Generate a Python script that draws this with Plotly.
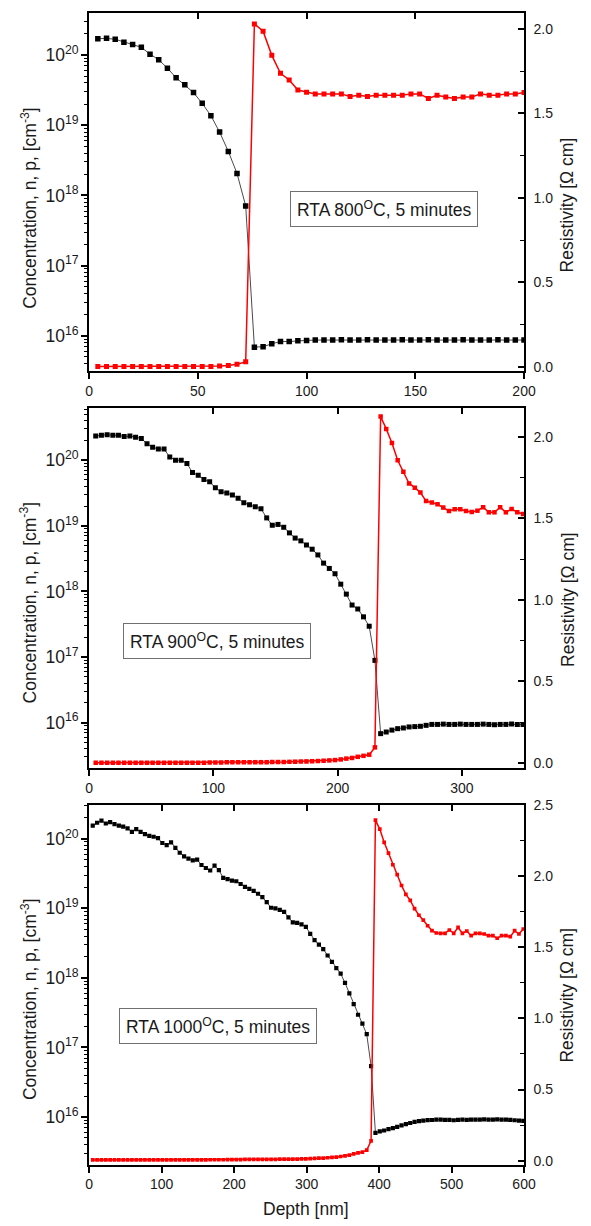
import plotly.graph_objects as go

# ---------------- RTA 800 C ----------------
depth_800 = list(range(4, 201, 4))
conc_800 = [
    1.71e20, 1.73e20, 1.68e20, 1.52e20, 1.41e20, 1.29e20, 1.03e20, 8.59e19, 6.50e19, 4.75e19,
    3.78e19, 2.92e19, 2.05e19, 1.37e19, 8.0e18, 4.24e18, 2.06e18, 7.1e17, 6.9e15, 7.0e15,
    7.7e15, 8.3e15, 8.3e15, 8.5e15, 8.6e15, 8.7e15, 8.7e15, 8.7e15, 8.8e15, 8.7e15,
    8.7e15, 8.8e15, 8.7e15, 8.7e15, 8.7e15, 8.8e15, 8.7e15, 8.7e15, 8.8e15, 8.7e15,
    8.7e15, 8.7e15, 8.8e15, 8.7e15, 8.7e15, 8.7e15, 8.8e15, 8.7e15, 8.7e15, 8.7e15,
]
rho_800 = [
    0.001, 0.001, 0.001, 0.001, 0.001, 0.001, 0.001, 0.001, 0.001, 0.001,
    0.001, 0.002, 0.002, 0.002, 0.004, 0.008, 0.015, 0.029, 2.029, 1.986,
    1.843, 1.737, 1.697, 1.638, 1.625, 1.615, 1.615, 1.615, 1.615, 1.600,
    1.607, 1.600, 1.607, 1.607, 1.607, 1.607, 1.615, 1.615, 1.588, 1.607,
    1.596, 1.588, 1.596, 1.596, 1.615, 1.607, 1.607, 1.615, 1.615, 1.623,
]

# ---------------- RTA 900 C ----------------
depth_900 = [round(5.3 + 4.585 * i, 1) for i in range(76)]
conc_900 = [
    2.34e20, 2.40e20, 2.45e20, 2.40e20, 2.40e20, 2.29e20, 2.34e20, 2.24e20, 2.14e20, 1.78e20,
    1.58e20, 1.48e20, 1.48e20, 1.12e20, 1.00e20, 1.00e20, 8.9e19, 6.5e19, 5.9e19, 5.1e19,
    4.7e19, 3.8e19, 3.3e19, 3.16e19, 2.95e19, 2.63e19, 2.24e19, 2.09e19, 1.95e19, 1.82e19,
    1.32e19, 1.02e19, 1.05e19, 9.5e18, 7.8e18, 6.5e18, 5.9e18, 5.1e18, 4.4e18, 3.6e18,
    2.7e18, 2.24e18, 1.86e18, 1.29e18, 9.1e17, 6.2e17, 5.4e17, 4.1e17, 2.95e17, 8.9e16,
    6.8e15, 7.2e15, 7.7e15, 8.1e15, 8.3e15, 8.6e15, 8.7e15, 8.8e15, 9.1e15, 9.4e15,
    9.4e15, 9.5e15, 9.4e15, 9.4e15, 9.5e15, 9.4e15, 9.4e15, 9.4e15, 9.5e15, 9.4e15,
    9.3e15, 9.4e15, 9.4e15, 9.5e15, 9.4e15, 9.4e15,
]
rho_900 = [
    0.001, 0.001, 0.001, 0.001, 0.001, 0.001, 0.001, 0.001, 0.001, 0.001,
    0.001, 0.001, 0.001, 0.001, 0.001, 0.001, 0.001, 0.001, 0.001, 0.001,
    0.002, 0.002, 0.002, 0.003, 0.003, 0.003, 0.003, 0.004, 0.004, 0.004,
    0.004, 0.005, 0.005, 0.005, 0.006, 0.007, 0.008, 0.009, 0.010, 0.011,
    0.013, 0.015, 0.017, 0.021, 0.026, 0.030, 0.037, 0.043, 0.050, 0.095,
    2.126, 2.050, 1.963, 1.857, 1.787, 1.715, 1.689, 1.659, 1.607, 1.598,
    1.587, 1.567, 1.546, 1.557, 1.557, 1.546, 1.540, 1.548, 1.569, 1.538,
    1.538, 1.569, 1.538, 1.559, 1.538, 1.528,
]

# ---------------- RTA 1000 C ----------------
depth_1000 = list(range(5, 600, 6))
conc_1000 = [
    1.55e20, 1.70e20, 1.82e20, 1.66e20, 1.74e20, 1.62e20, 1.55e20, 1.50e20, 1.41e20, 1.26e20,
    1.38e20, 1.26e20, 1.17e20, 1.10e20, 1.07e20, 1.02e20, 8.7e19, 8.1e19, 8.9e19, 7.4e19,
    6.3e19, 5.6e19, 5.2e19, 4.9e19, 5.0e19, 4.2e19, 3.8e19, 3.5e19, 4.1e19, 3.55e19,
    2.75e19, 2.63e19, 2.51e19, 2.45e19, 2.24e19, 2.04e19, 1.91e19, 1.78e19, 1.62e19, 1.45e19,
    1.23e19, 1.02e19, 1.00e19, 9.5e18, 8.9e18, 7.4e18, 6.3e18, 6.2e18, 5.9e18, 5.4e18,
    4.3e18, 3.5e18, 3.0e18, 2.6e18, 2.1e18, 1.7e18, 1.38e18, 1.15e18, 8.5e17, 6.0e17,
    4.2e17, 2.95e17, 2.2e17, 1.55e17, 5.4e16, 5.9e15, 6.2e15, 6.4e15, 6.7e15, 6.9e15,
    7.2e15, 7.6e15, 7.9e15, 8.2e15, 8.5e15, 8.7e15, 8.9e15, 9.0e15, 9.06e15, 9.16e15,
    9.16e15, 9.08e15, 9.08e15, 8.98e15, 9.08e15, 9.16e15, 9.08e15, 9.16e15, 9.16e15, 9.16e15,
    9.27e15, 9.16e15, 9.16e15, 9.27e15, 9.16e15, 9.16e15, 9.08e15, 8.98e15, 8.87e15, 8.77e15,
]
rho_1000 = [
    0.005, 0.005, 0.005, 0.005, 0.005, 0.005, 0.005, 0.005, 0.005, 0.005,
    0.005, 0.005, 0.005, 0.005, 0.005, 0.005, 0.005, 0.005, 0.005, 0.005,
    0.005, 0.005, 0.005, 0.005, 0.005, 0.005, 0.005, 0.006, 0.006, 0.006,
    0.006, 0.007, 0.007, 0.007, 0.007, 0.008, 0.008, 0.008, 0.008, 0.009,
    0.009, 0.009, 0.009, 0.010, 0.010, 0.010, 0.011, 0.011, 0.012, 0.012,
    0.014, 0.015, 0.017, 0.018, 0.020, 0.022, 0.025, 0.029, 0.033, 0.039,
    0.047, 0.054, 0.060, 0.074, 0.139, 2.395, 2.332, 2.239, 2.163, 2.081,
    2.012, 1.935, 1.873, 1.831, 1.773, 1.726, 1.691, 1.652, 1.617, 1.601,
    1.599, 1.599, 1.622, 1.599, 1.640, 1.599, 1.615, 1.582, 1.599, 1.599,
    1.594, 1.582, 1.582, 1.564, 1.582, 1.582, 1.575, 1.617, 1.594, 1.629,
]

panel_labels = [
    "RTA 800<sup>O</sup>C, 5 minutes",
    "RTA 900<sup>O</sup>C, 5 minutes",
    "RTA 1000<sup>O</sup>C, 5 minutes",
]
y_title = "Concentration, n, p, [cm<sup>-3</sup>]"
y2_title = "Resistivity [\u03a9 cm]"
x_title = "Depth [nm]"

# ---------------- layout geometry ----------------
W, H = 591, 1226
FONT = "Liberation Sans, Arial, sans-serif"
TXT = "#1a1a1a"
TICK_SIZE = 14
TITLE_SIZE = 17.5

x_dom = [87.5 / W, 534.5 / W]
panels = [
    dict(depth=depth_800, conc=conc_800, rho=rho_800, top=5, bot=367,
         xr=[0, 200], xd=50, yr=[15.493, 20.60], y2r=[-0.0275, 2.094],
         msize=5.5, box=(391, 202.5), ytc=201.5, y2tc=199),
    dict(depth=depth_900, conc=conc_900, rho=rho_900, top=404, bot=767.7,
         xr=[0, 350], xd=100, yr=[15.306, 20.795], y2r=[-0.0328, 2.178],
         msize=5, box=(219, 639.5), ytc=600, y2tc=597.5),
    dict(depth=depth_1000, conc=conc_1000, rho=rho_1000, top=805, bot=1168.3,
         xr=[0, 600], xd=100, yr=[15.312, 20.484], y2r=[-0.030, 2.5005],
         msize=4.2, box=(219.5, 1028.5), ytc=1000.5, y2tc=997),
]

fig = go.Figure()
layout = dict(
    width=W, height=H,
    margin=dict(l=0, r=0, t=0, b=0),
    paper_bgcolor="white", plot_bgcolor="white",
    showlegend=False,
    font=dict(family=FONT, size=TICK_SIZE, color=TXT),
)
annotations = []

axis_line = dict(showline=True, linecolor="black", linewidth=1.5,
                 showgrid=False, zeroline=False, tickcolor="black",
                 tickwidth=1.5, tickfont=dict(family=FONT, size=TICK_SIZE, color=TXT))

for k, p in enumerate(panels):
    a = 2 * k + 1      # concentration axes (bottom / left)
    b = 2 * k + 2      # resistivity axes (top / right)
    xa, ya = f"x{a}" if a > 1 else "x", f"y{a}" if a > 1 else "y"
    xb, yb = f"x{b}", f"y{b}"
    y_dom = [1 - p["bot"] / H, 1 - p["top"] / H]

    layout[f"xaxis{a}" if a > 1 else "xaxis"] = dict(
        axis_line, domain=x_dom, anchor=ya, range=p["xr"], tick0=0, dtick=p["xd"],
        ticks="outside", ticklen=6, mirror=False)
    layout[f"yaxis{a}" if a > 1 else "yaxis"] = dict(
        axis_line, domain=y_dom, anchor=xa, type="log", range=p["yr"], dtick=1,
        exponentformat="power", ticks="outside", ticklen=6,
        minor=dict(ticks="outside", ticklen=3.5, dtick="D1", tickcolor="black",
                   tickwidth=1, showgrid=False))
    layout[f"xaxis{b}"] = dict(
        axis_line, overlaying=xa, anchor=yb, side="top", range=p["xr"], tick0=0,
        dtick=p["xd"], ticks="inside", ticklen=6, showticklabels=False)
    layout[f"yaxis{b}"] = dict(
        axis_line, overlaying=ya, anchor=xb, side="right", range=p["y2r"],
        tick0=0, dtick=0.5, tickformat=".1f", ticks="inside", ticklen=6,
        ticklabelstandoff=5,
        minor=dict(ticks="inside", ticklen=4, dtick=0.25, tickcolor="black",
                   tickwidth=1, showgrid=False))

    fig.add_trace(go.Scatter(
        x=p["depth"], y=p["conc"], xaxis=xa, yaxis=ya, mode="lines+markers",
        line=dict(color="#4a4a4a", width=1),
        marker=dict(symbol="square", size=p["msize"], color="black"),
        name="n, p"))
    fig.add_trace(go.Scatter(
        x=p["depth"], y=p["rho"], xaxis=xb, yaxis=yb, mode="lines+markers",
        line=dict(color="#ff0000", width=1.5),
        marker=dict(symbol="square", size=p["msize"] - 0.5, color="#ff0000"),
        name="Resistivity"))

    bx, by = p["box"]
    annotations.append(dict(
        text=panel_labels[k], xref="paper", yref="paper", x=bx / W, y=1 - by / H,
        xanchor="center", yanchor="middle", showarrow=False,
        font=dict(family=FONT, size=TITLE_SIZE, color=TXT),
        bordercolor="#707070", borderwidth=1, borderpad=6, bgcolor="white"))
    annotations.append(dict(
        text=y_title, xref="paper", yref="paper", x=25 / W, y=1 - p["ytc"] / H,
        xanchor="center", yanchor="middle", textangle=-90, showarrow=False,
        font=dict(family=FONT, size=TITLE_SIZE, color=TXT)))
    annotations.append(dict(
        text=y2_title, xref="paper", yref="paper", x=579 / W, y=1 - p["y2tc"] / H,
        xanchor="center", yanchor="middle", textangle=-90, showarrow=False,
        font=dict(family=FONT, size=TITLE_SIZE, color=TXT)))

annotations.append(dict(
    text=x_title, xref="paper", yref="paper", x=310.5 / W, y=1 - 1213 / H,
    xanchor="center", yanchor="middle", showarrow=False,
    font=dict(family=FONT, size=TITLE_SIZE, color=TXT)))

layout["annotations"] = annotations
fig.update_layout(**layout)
fig.write_html("out.html")
